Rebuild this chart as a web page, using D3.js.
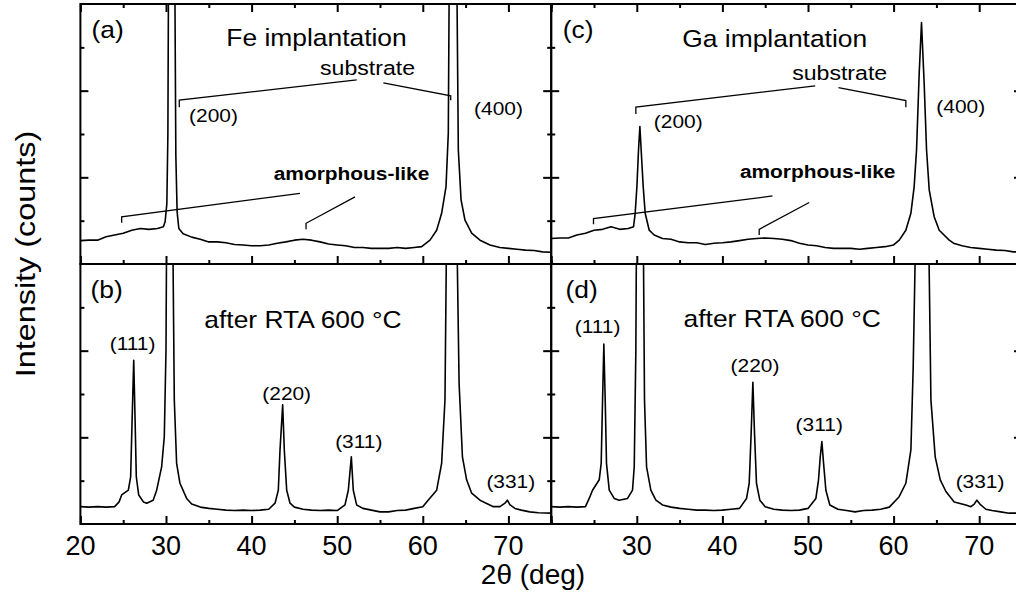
<!DOCTYPE html>
<html>
<head>
<meta charset="utf-8">
<script src="https://cdn.jsdelivr.net/npm/d3@7/dist/d3.min.js"></script>
<style>
  body { margin: 0; background: #fff; }
  svg text { font-family: "Liberation Sans", Arial, Helvetica, sans-serif; fill: #000; }
</style>
</head>
<body>
<div id="chart"></div>
<script>
// 2theta (deg), intensity (arb. counts, panel top = 600)
var feImplant = [[20,54],[21,55],[22,55],[23,63],[24,67],[25,71],[26,78],[27,82],[28,80],[29,82],[29.7,86],[29.9,98],[30.1,140],[30.22,300],[30.3,700],[30.66,5000],[31.02,700],[31.15,250],[31.3,120],[31.5,82],[32,70],[33,62],[34,57],[35,51],[36,51],[37,49],[38,45],[39,44],[40,42],[41,42],[42,44],[43,48],[44,51],[45,55],[46,57],[47,55],[48,51],[49,46],[50,44],[51,42],[52,38],[53,38],[54,36],[55,36],[56,36],[57,38],[58,36],[59,38],[59.87,40],[60.84,55],[61.62,78],[62.2,117],[62.71,178],[62.98,302],[63.1,700],[63.53,5000],[63.96,700],[64.15,263],[64.47,148],[64.93,101],[65.71,71],[66.68,55],[67.85,44],[69,38],[70,36],[71,34],[72,32],[73,31],[74,28],[75,27]];
var gaImplant = [[20,59],[21,60],[22,60],[23,67],[24,71],[25,78],[26,80],[27,86],[28,80],[29,82],[29.62,86],[29.81,117],[30.01,178],[30.2,263],[30.36,317],[30.51,263],[30.75,178],[30.98,117],[31.45,78],[32.03,67],[33,59],[34,57],[35,51],[36,49],[37,49],[38,45],[39,48],[40,49],[41,51],[42,54],[43,57],[44,59],[45,60],[46,59],[47,57],[48,54],[49,48],[50,44],[51,42],[52,38],[53,36],[54,36],[55,36],[56,34],[57,36],[58,38],[59,40],[60,44],[60.66,55],[61.43,78],[62.02,117],[62.4,178],[62.68,263],[62.99,440],[63.26,557],[63.57,417],[63.85,263],[64.16,171],[64.74,109],[65.33,78],[66.5,55],[67,48],[68,42],[69,38],[70,36],[71,34],[72,32],[73,31],[74,28],[75,28]];
var feAnnealed = [[20,40],[21,39],[22,40],[23,39],[24,40],[24.52,51],[24.82,67],[25.6,78],[25.87,109],[26.03,232],[26.23,378],[26.38,248],[26.53,109],[26.81,67],[27.36,51],[27.75,48],[28.5,55],[28.91,78],[29.49,132],[29.8,201],[30.0,401],[30.08,700],[30.43,5000],[30.78,700],[30.97,286],[31.24,140],[31.63,94],[32.41,59],[33,46],[34,39],[35,36],[36,34],[37,32],[38,31],[39,32],[40,31],[41,32],[42,34],[42.74,48],[43.12,78],[43.32,171],[43.63,275],[43.82,171],[44.1,78],[44.49,48],[45,39],[46,34],[47,32],[48,31],[49,32],[50,31],[50.91,44],[51.3,78],[51.65,155],[51.88,78],[52.27,44],[53,36],[54,32],[55,28],[56,28],[57,31],[58,32],[59,36],[60,40],[60.45,51],[61.62,78],[62.2,140],[62.59,286],[62.79,700],[63.38,5000],[63.96,700],[64.24,325],[64.63,155],[65.12,102],[65.71,71],[66.68,55],[68.24,40],[69.02,40],[69.6,48],[69.88,55],[70.19,44],[70.77,36],[71.5,32],[72.5,28],[73.5,26],[75,25]];
var gaAnnealed = [[20,40],[21,39],[22,40],[23,39],[24,40],[24.44,59],[24.83,78],[25.61,102],[25.84,140],[26.0,286],[26.15,415],[26.31,286],[26.46,140],[26.78,78],[27.36,59],[27.94,55],[28.92,59],[29.5,78],[29.7,132],[29.89,401],[29.97,700],[30.36,5000],[30.75,700],[30.9,286],[31.14,132],[31.64,78],[32.23,55],[33,44],[34,39],[35,36],[36,34],[37,32],[38,32],[39,31],[40,32],[41,34],[42,36],[42.82,59],[43.13,94],[43.36,210],[43.56,327],[43.75,210],[43.98,94],[44.37,55],[45,40],[46,34],[47,32],[48,31],[49,32],[50,36],[50.92,59],[51.23,102],[51.43,155],[51.62,190],[51.82,140],[52.09,78],[52.55,44],[53.5,34],[54.5,31],[55.5,28],[56.5,31],[57.5,32],[58.5,34],[59.5,39],[60.65,63],[61.43,94],[62.02,171],[62.29,363],[62.6,700],[63.34,5000],[64.08,700],[64.36,286],[64.86,155],[65.45,102],[66.11,75],[67.08,51],[68.44,44],[69.03,40],[69.42,46],[69.73,55],[70.08,46],[70.78,34],[71.5,31],[72.5,28],[73.5,25],[75,25]];

var xDomain = [20, 75];
var yDomain = [0, 600];
var xMajor = [20, 30, 40, 50, 60, 70];
var xMinor = [25, 35, 45, 55, 65, 75];
var yMajor = [200, 400];
var yMinor = [100, 300, 500];
var xLabelsLeft = [20, 30, 40, 50, 60, 70];
var xLabelsRight = [30, 40, 50, 60, 70];

(function() {

  "use strict";

  var width = 1016, height = 598;
  var plotW = 470.8, plotH = 260;
  var originX = 80.4, originY = 4;

  var svg = d3.select('#chart').append('svg')
    .attr('width', width)
    .attr('height', height);

  var x = d3.scaleLinear().domain(xDomain).range([0, plotW]);
  var y = d3.scaleLinear().domain(yDomain).range([plotH, 0]);

  var line = d3.line()
    .x(function(d) { return x(d[0]); })
    .y(function(d) { return y(d[1]); });

  var panels = [
    {
      id: 'a', col: 0, row: 0, data: feImplant, labelsX: null,
      texts: [
        { t: '(a)', x: 23.17, y: 521, size: 24 },
        { t: 'Fe implantation', x: 47.58, y: 503, size: 24 },
        { t: 'substrate', x: 53.54, y: 436, size: 21 },
        { t: '(200)', x: 35.55, y: 328, size: 19 },
        { t: '(400)', x: 68.84, y: 344, size: 19 },
        { t: 'amorphous-like', x: 51.67, y: 194, size: 19, bold: true }
      ],
      leaders: [
        [[31.55, 362], [31.55, 378], [52.28, 425]],
        [[55.39, 418], [63.26, 388], [63.26, 378]],
        [[45.65, 163], [24.82, 109], [24.82, 95]],
        [[52.08, 155], [46.36, 94], [46.36, 80]]
      ]
    },
    {
      id: 'c', col: 1, row: 0, data: gaImplant, labelsX: null,
      texts: [
        { t: '(c)', x: 23.15, y: 521, size: 24 },
        { t: 'Ga implantation', x: 46.11, y: 501, size: 24 },
        { t: 'substrate', x: 53.7, y: 425, size: 21 },
        { t: '(200)', x: 34.84, y: 314, size: 19 },
        { t: '(400)', x: 67.84, y: 348, size: 19 },
        { t: 'amorphous-like', x: 51.13, y: 198, size: 19, bold: true }
      ],
      leaders: [
        [[29.89, 346], [29.89, 362], [50.84, 411]],
        [[53.56, 407], [61.43, 377], [61.43, 362]],
        [[45.85, 157], [24.94, 105], [24.94, 92]],
        [[50.14, 142], [44.3, 80], [44.3, 67]]
      ]
    },
    {
      id: 'b', col: 0, row: 1, data: feAnnealed, labelsX: xLabelsLeft,
      texts: [
        { t: '(b)', x: 23.07, y: 521, size: 24 },
        { t: 'after RTA 600 °C', x: 46.0, y: 452, size: 24 },
        { t: '(111)', x: 26.09, y: 402, size: 19 },
        { t: '(220)', x: 44.1, y: 286, size: 19 },
        { t: '(311)', x: 52.52, y: 175, size: 19 },
        { t: '(331)', x: 70.28, y: 82, size: 19 }
      ],
      leaders: []
    },
    {
      id: 'd', col: 1, row: 1, data: gaAnnealed, labelsX: xLabelsRight,
      texts: [
        { t: '(d)', x: 23.56, y: 521, size: 24 },
        { t: 'after RTA 600 °C', x: 46.99, y: 454, size: 24 },
        { t: '(111)', x: 25.41, y: 440, size: 19 },
        { t: '(220)', x: 43.81, y: 351, size: 19 },
        { t: '(311)', x: 51.31, y: 215, size: 19 },
        { t: '(331)', x: 70.1, y: 82, size: 19 }
      ],
      leaders: []
    }
  ];

  var defs = svg.append('defs');
  defs.append('clipPath').attr('id', 'plotClip')
    .append('rect')
    .attr('x', 0).attr('y', 0)
    .attr('width', plotW).attr('height', plotH);

  panels.forEach(drawPanel);

  // axis titles
  svg.append('text')
    .attr('transform', 'translate(35,254) rotate(-90) scale(1.2,1)')
    .attr('text-anchor', 'middle')
    .style('font-size', '27px')
    .text('Intensity (counts)');

  svg.append('text')
    .attr('x', 533)
    .attr('y', 584)
    .attr('text-anchor', 'middle')
    .style('font-size', '28px')
    .text('2θ (deg)');

  function styleAxis(g) {
    g.select('.domain').remove();
    g.selectAll('line').attr('stroke', '#000').attr('stroke-width', 2);
  }

  function drawPanel(p) {
    var g = svg.append('g')
      .attr('class', 'panel panel-' + p.id)
      .attr('transform', 'translate(' + (originX + p.col * plotW) + ',' + (originY + p.row * plotH) + ')');

    // spectrum
    g.append('path')
      .datum(p.data)
      .attr('clip-path', 'url(#plotClip)')
      .attr('fill', 'none')
      .attr('stroke', '#000')
      .attr('stroke-width', 1.6)
      .attr('stroke-linejoin', 'round')
      .attr('d', line);

    // bottom ticks (inward)
    g.append('g').attr('transform', 'translate(0,' + plotH + ')')
      .call(d3.axisBottom(x).tickValues(xMajor).tickSize(-8).tickSizeOuter(0).tickFormat(''))
      .call(styleAxis);
    g.append('g').attr('transform', 'translate(0,' + plotH + ')')
      .call(d3.axisBottom(x).tickValues(xMinor).tickSize(-4).tickSizeOuter(0).tickFormat(''))
      .call(styleAxis);

    if (p.row === 0) {
      g.append('g')
        .call(d3.axisTop(x).tickValues(xMajor).tickSize(-8).tickSizeOuter(0).tickFormat(''))
        .call(styleAxis);
      g.append('g')
        .call(d3.axisTop(x).tickValues(xMinor).tickSize(-4).tickSizeOuter(0).tickFormat(''))
        .call(styleAxis);
    }

    // left / right ticks (inward)
    g.append('g')
      .call(d3.axisLeft(y).tickValues(yMajor).tickSize(-8).tickSizeOuter(0).tickFormat(''))
      .call(styleAxis);
    g.append('g')
      .call(d3.axisLeft(y).tickValues(yMinor).tickSize(-4).tickSizeOuter(0).tickFormat(''))
      .call(styleAxis);
    g.append('g').attr('transform', 'translate(' + plotW + ',0)')
      .call(d3.axisRight(y).tickValues(yMajor).tickSize(-8).tickSizeOuter(0).tickFormat(''))
      .call(styleAxis);
    g.append('g').attr('transform', 'translate(' + plotW + ',0)')
      .call(d3.axisRight(y).tickValues(yMinor).tickSize(-4).tickSizeOuter(0).tickFormat(''))
      .call(styleAxis);

    // frame
    g.append('rect')
      .attr('width', plotW)
      .attr('height', plotH)
      .attr('fill', 'none')
      .attr('stroke', '#000')
      .attr('stroke-width', 2);

    // tick labels
    if (p.labelsX) {
      g.selectAll('.xlabel')
        .data(p.labelsX)
        .enter().append('text')
        .attr('class', 'xlabel')
        .attr('x', function(d) { return x(d); })
        .attr('y', plotH + 31)
        .attr('text-anchor', 'middle')
        .style('font-size', '27px')
        .text(function(d) { return d; });
    }

    // leader lines
    g.selectAll('.leader')
      .data(p.leaders)
      .enter().append('path')
      .attr('class', 'leader')
      .attr('fill', 'none')
      .attr('stroke', '#000')
      .attr('stroke-width', 1.3)
      .attr('d', line);

    // annotations
    g.selectAll('.note')
      .data(p.texts)
      .enter().append('text')
      .attr('class', 'note')
      .attr('transform', function(d) {
        return 'translate(' + x(d.x) + ',' + y(d.y) + ') scale(1.1,1)';
      })
      .attr('text-anchor', 'middle')
      .style('font-size', function(d) { return d.size + 'px'; })
      .style('font-weight', function(d) { return d.bold ? 'bold' : 'normal'; })
      .text(function(d) { return d.t; });
  }
})();
</script>
</body>
</html>
